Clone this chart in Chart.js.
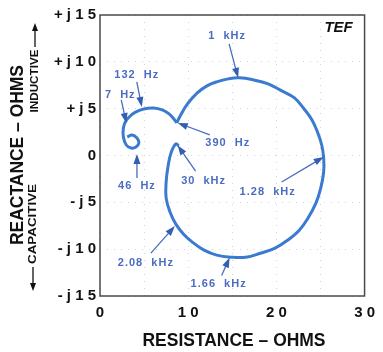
<!DOCTYPE html>
<html>
<head>
<meta charset="utf-8">
<script src="https://cdn.jsdelivr.net/npm/chart.js@4.4.1/dist/chart.umd.min.js"></script>
<style>
  html, body { margin: 0; padding: 0; background: #fff; }
</style>
</head>
<body>
<canvas id="tefChart" width="383" height="352"></canvas>
<script>
// impedance curve (ohms)
const resistance = [3.09, 3.64, 4.19, 4.41, 4.08, 3.53, 2.98, 2.65, 2.65, 2.87, 3.42, 4.08, 4.96, 6.06, 7.06, 7.83, 8.38, 8.71,
    9.15, 9.92, 11.03, 12.13, 13.23, 14.55, 15.77, 17.42, 19.07, 20.62, 22.05, 23.15, 24.04, 24.70, 25.14, 25.36, 25.36, 25.03,
    24.48, 23.59, 22.60, 21.28, 19.85, 18.19, 16.54, 14.88, 13.23, 11.80, 10.47, 9.48, 8.60, 7.94, 7.50, 7.50, 7.72, 8.05, 8.60, 8.93];
const reactance = [1.98, 2.19, 1.87, 1.34, 0.91, 0.80, 1.12, 1.98, 2.94, 3.58, 4.22, 4.65, 4.97, 5.08, 4.87, 4.44, 3.90, 3.48,
    4.33, 5.51, 6.68, 7.43, 7.86, 8.18, 8.29, 8.07, 7.65, 6.90, 6.15, 4.97, 3.80, 2.41, 1.12, -0.27, -1.76, -3.48,
    -5.08, -6.68, -7.97, -9.04, -9.89, -10.43, -10.86, -10.86, -10.64, -10.11, -9.25, -8.40, -7.33, -6.04, -4.55, -2.83, -1.12, 0.27, 1.23, 1.02];
const cuspIndex = 17; // 390 Hz, curve has a sharp corner here

// frequency markers
const markerLabels = ['7 Hz', '46 Hz', '132 Hz', '390 Hz', '1 kHz', '1.28 kHz', '1.66 kHz', '2.08 kHz', '30 kHz'];
const markerR = [2.98, 4.19, 4.74, 8.82, 15.66, 25.36, 14.7, 8.49, 8.8];
const markerX = [3.48, 0.16, 5.19, 3.48, 8.29, -0.16, -10.9, -7.54, 1.1];

const xTicks = [0, 10, 20, 30];
const yTicks = [-15, -10, -5, 0, 5, 10, 15];

// where arrow tails and labels sit, in pixels from the arrow tip
const tailOffsets = [[-5, -23], [0, 24], [-5, -25], [32, 12], [-9, -34], [-42, 25], [-8, 18], [-24, 27], [18, 26]];
const labelOffsets = [[-6, -28], [0, 32], [-5, -32], [50, 20], [-11, -42], [-56, 35], [-11, 26], [-29, 37], [26, 36]];

const curveColor = '#3a7bd0';
const noteColor = '#4a6cc2';

const points = resistance.map((r, i) => ({ x: r, y: reactance[i] }));

function spaced(n) {
    return String(n).split('').join(' ');
}

// draws text squeezed/stretched to a given length
function fitText(ctx, text, x, y, len, rot) {
    ctx.save();
    ctx.translate(x, y);
    ctx.rotate(rot);
    const w = ctx.measureText(text).width;
    ctx.scale(len / w, 1);
    ctx.textAlign = 'center';
    ctx.textBaseline = 'middle';
    ctx.fillText(text, 0, 0);
    ctx.restore();
}

function arrow(ctx, x1, y1, x2, y2, head, half) {
    const a = Math.atan2(y2 - y1, x2 - x1);
    ctx.beginPath();
    ctx.moveTo(x1, y1);
    ctx.lineTo(x2 - Math.cos(a) * head * 0.6, y2 - Math.sin(a) * head * 0.6);
    ctx.stroke();
    ctx.beginPath();
    ctx.moveTo(x2, y2);
    ctx.lineTo(x2 - Math.cos(a) * head - Math.sin(a) * half, y2 - Math.sin(a) * head + Math.cos(a) * half);
    ctx.lineTo(x2 - Math.cos(a) * head + Math.sin(a) * half, y2 - Math.sin(a) * head - Math.cos(a) * half);
    ctx.closePath();
    ctx.fill();
}

const decorations = {
    id: 'decorations',
    afterDatasetsDraw(chart) {
        const ctx = chart.ctx;
        const area = chart.chartArea;
        const xs = chart.scales.x;
        const ys = chart.scales.y;

        // frame
        ctx.save();
        ctx.strokeStyle = '#4a4a4a';
        ctx.lineWidth = 1.5;
        ctx.strokeRect(area.left, area.top, area.right - area.left, area.bottom - area.top);

        // frequency arrows and labels
        ctx.strokeStyle = noteColor;
        ctx.fillStyle = '#335fb0';
        ctx.lineWidth = 1.3;
        markerLabels.forEach((label, i) => {
            const tx = xs.getPixelForValue(markerR[i]);
            const ty = ys.getPixelForValue(markerX[i]);
            arrow(ctx, tx + tailOffsets[i][0], ty + tailOffsets[i][1], tx, ty, 10, 3.5);
        });
        ctx.fillStyle = noteColor;
        ctx.font = 'bold 11px "Liberation Sans", Arial, sans-serif';
        ctx.letterSpacing = '1px';
        ctx.textAlign = 'center';
        ctx.textBaseline = 'middle';
        markerLabels.forEach((label, i) => {
            const tx = xs.getPixelForValue(markerR[i]);
            const ty = ys.getPixelForValue(markerX[i]);
            ctx.fillText(label.replace(' ', '  '), tx + labelOffsets[i][0], ty + labelOffsets[i][1]);
        });
        ctx.letterSpacing = '0px';

        // TEF logo
        ctx.fillStyle = '#111';
        ctx.font = 'italic bold 15px "Liberation Sans", Arial, sans-serif';
        ctx.fillText('TEF', area.right - 26, area.top + 13);
        ctx.restore();
    },
    afterDraw(chart) {
        const ctx = chart.ctx;
        ctx.save();
        ctx.fillStyle = '#111';
        ctx.strokeStyle = '#111';
        ctx.font = 'bold 18px "Liberation Sans", Arial, sans-serif';
        fitText(ctx, 'RESISTANCE \u2013 OHMS', 234, 341, 183, 0);
        fitText(ctx, 'REACTANCE \u2013 OHMS', 18, 155, 180, -Math.PI / 2);

        ctx.font = 'bold 11px "Liberation Sans", Arial, sans-serif';
        fitText(ctx, 'INDUCTIVE', 35, 81, 63, -Math.PI / 2);
        fitText(ctx, 'CAPACITIVE', 33, 224, 80, -Math.PI / 2);
        ctx.lineWidth = 1.3;
        arrow(ctx, 35, 47, 35, 23, 8, 3);
        arrow(ctx, 33, 267, 33, 291, 8, 3);
        ctx.restore();
    }
};

const ctx = document.getElementById('tefChart').getContext('2d');
const tefChart = new Chart(ctx, {
    type: 'scatter',
    data: {
        datasets: [{
            data: points.slice(0, cuspIndex + 1),
            showLine: true,
            borderColor: curveColor,
            borderWidth: 3,
            pointRadius: 0,
            tension: 0.4
        }, {
            data: points.slice(cuspIndex),
            showLine: true,
            borderColor: curveColor,
            borderWidth: 3,
            pointRadius: 0,
            tension: 0.4
        }]
    },
    options: {
        responsive: false,
        animation: false,
        layout: { padding: { top: 15, right: 11, left: 0, bottom: 0 } },
        plugins: { legend: { display: false }, tooltip: { enabled: false } },
        scales: {
            x: {
                type: 'linear',
                min: 0,
                max: 30,
                afterFit: s => { s.height = 56; },
                afterBuildTicks: s => { s.ticks = [0, 5, 10, 15, 20, 25, 30].map(v => ({ value: v })); },
                grid: { color: 'rgba(110,130,150,0.35)', drawTicks: false },
                border: { display: false, dash: [1, 6] },
                ticks: {
                    padding: 8,
                    color: '#111',
                    font: { family: '"Liberation Sans", Arial, sans-serif', size: 15, weight: 'bold' },
                    callback: v => xTicks.includes(v) ? spaced(v) : ''
                }
            },
            y: {
                type: 'linear',
                min: -15,
                max: 15,
                afterFit: s => { s.width = 100; },
                afterBuildTicks: s => { s.ticks = yTicks.map(v => ({ value: v })); },
                grid: { color: 'rgba(110,130,150,0.35)', drawTicks: false },
                border: { display: false, dash: [1, 6] },
                ticks: {
                    padding: 4,
                    color: '#111',
                    font: { family: '"Liberation Sans", Arial, sans-serif', size: 15, weight: 'bold' },
                    callback: v => v === 0 ? '0' : (v > 0 ? '+ j ' : '- j ') + spaced(Math.abs(v))
                }
            }
        }
    },
    plugins: [decorations]
});
</script>
</body>
</html>
